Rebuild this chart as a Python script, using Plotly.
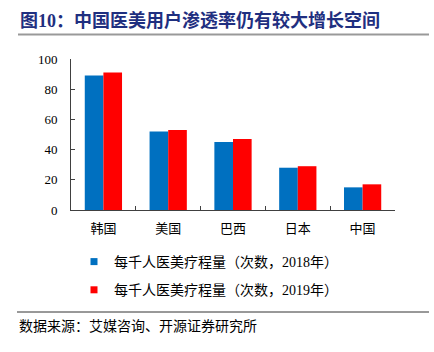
import plotly.graph_objects as go

categories = ["韩国", "美国", "巴西", "日本", "中国"]
values_2018 = [89, 52, 45, 28, 15]
values_2019 = [91, 53, 47, 29, 17]
series_names = ["每千人医美疗程量（次数，2018年）", "每千人医美疗程量（次数，2019年）"]
colors = ["#0070C0", "#FF0000"]
title_text = "图10：中国医美用户渗透率仍有较大增长空间"
source_text = "数据来源：艾媒咨询、开源证券研究所"

FONT = "Liberation Serif, 'Noto Sans CJK SC', serif"

fig = go.Figure()
for vals, name, col in zip([values_2018, values_2019], series_names, colors):
    fig.add_trace(go.Bar(x=categories, y=vals, name=name, marker=dict(color=col, line=dict(width=0)),
                         showlegend=False))
for i, (name, col) in enumerate(zip(series_names, colors)):
    fig.add_trace(go.Scatter(x=[None], y=[None], mode="markers", name=name, legendgroup=f"g{i}",
                             marker=dict(symbol="square", size=7, color=col)))

W, H = 434, 352
ml, mr, mt, mb = 71, 39, 59, 142
pw, ph = W - ml - mr, H - mt - mb

def px_x(p):
    return (p - ml) / pw

def px_y(p):
    return (H - mb - p) / ph

fig.update_layout(
    width=W, height=H,
    margin=dict(l=ml, r=mr, t=mt, b=mb, pad=0),
    paper_bgcolor="white", plot_bgcolor="white",
    font=dict(family=FONT, size=12, color="#000000"),
    barmode="group", bargap=0.425, bargroupgap=0,
    showlegend=True,
    legend=dict(x=px_x(74), y=px_y(246), xanchor="left", yanchor="top",
                font=dict(size=14, family=FONT, color="#000000"),
                traceorder="grouped", tracegroupgap=7, itemwidth=30,
                bgcolor="rgba(0,0,0,0)"),
    xaxis=dict(type="category", range=[-0.5, 4.5], showline=True, linecolor="#404040", linewidth=1,
               ticks="inside", ticklen=4, tickcolor="#404040", tickson="boundaries",
               showgrid=False, tickfont=dict(size=13, family=FONT), ticklabelstandoff=6),
    yaxis=dict(range=[0, 100], dtick=20, showline=True, linecolor="#404040", linewidth=1,
               ticks="inside", ticklen=4, tickcolor="#404040", showgrid=False, zeroline=False,
               tickfont=dict(size=13, family=FONT), ticklabelstandoff=10),
    annotations=[
        dict(text=title_text, x=px_x(18), y=px_y(20), xref="paper", yref="paper",
             xanchor="left", yanchor="middle", showarrow=False,
             font=dict(size=18, family=FONT, color="#1F2F80", weight="bold")),
        dict(text=source_text, x=px_x(17), y=px_y(326), xref="paper", yref="paper",
             xanchor="left", yanchor="middle", showarrow=False,
             font=dict(size=14, family=FONT, color="#000000")),
    ],
    shapes=[
        dict(type="line", xref="paper", yref="paper", x0=px_x(18), x1=px_x(429),
             y0=px_y(34.5), y1=px_y(34.5), line=dict(color="#999999", width=2)),
        dict(type="line", xref="paper", yref="paper", x0=px_x(17), x1=px_x(429),
             y0=px_y(312), y1=px_y(312), line=dict(color="#333333", width=1)),
    ],
)

fig.write_html("out.html")
